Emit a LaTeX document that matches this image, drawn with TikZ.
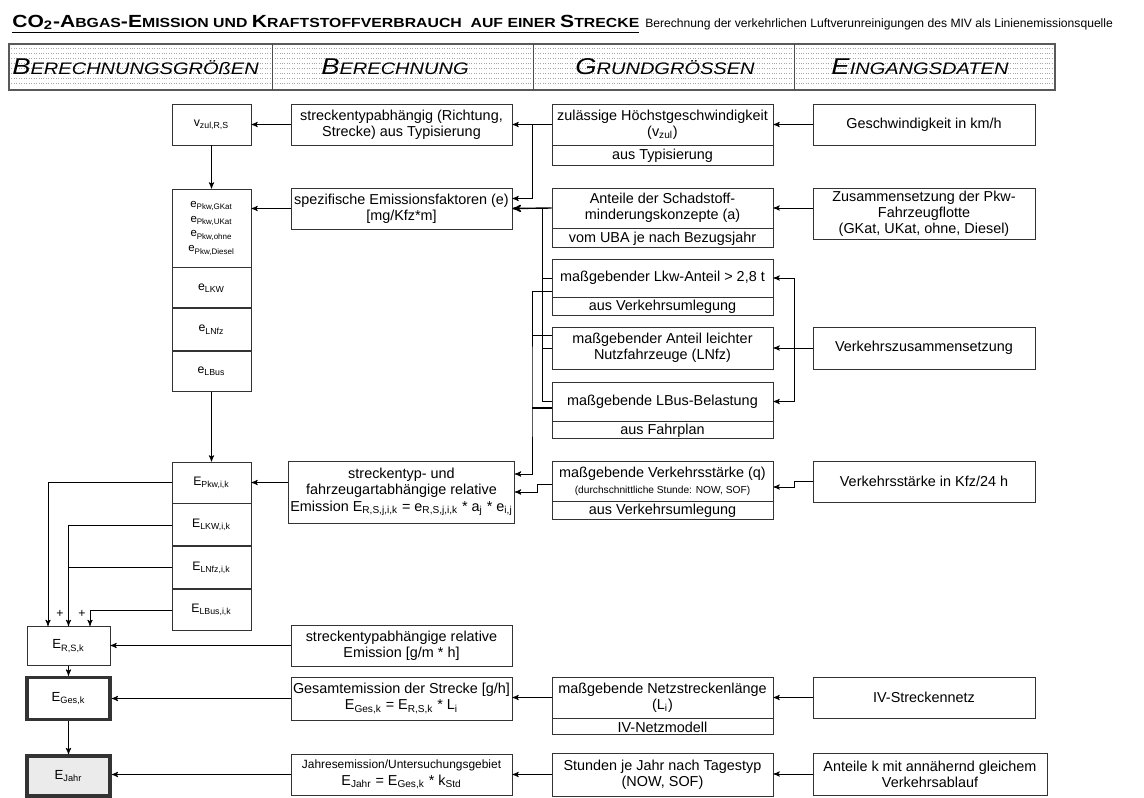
\documentclass[tikz,border=0pt]{standalone}
\usepackage{fontspec}
\setmainfont{Liberation Sans}
\newfontfamily\widefont[FakeStretch=1.2]{Liberation Sans}
\usetikzlibrary{arrows}
\usetikzlibrary{positioning}

\newcommand{\titelkap}[2]{{\fontsize{10}{10}\selectfont #1}{\fontsize{7.5}{7.5}\selectfont #2}}
\newcommand{\kopfkap}[2]{{\fontsize{13}{13}\selectfont #1}{\fontsize{9.5}{9.5}\selectfont #2}}

\begin{document}
\begin{tikzpicture}[x=0.02cm, y=-0.02cm]
    \tikzset{>=stealth'}
    \tikzset{
        box/.style={draw=black!80, line width=0.5pt, align=center, inner sep=1pt,
            font=\fontsize{8.2}{9.2}\selectfont, minimum width=4.42cm},
        smallbox/.style={box, minimum width=1.58cm, font=\fontsize{7}{8.5}\selectfont},
        resultbox/.style={box, minimum width=1.66cm, font=\fontsize{7.5}{8.5}\selectfont},
        kopf/.style={font=\widefont\itshape, inner sep=0pt},
        plus/.style={font=\fontsize{7}{7}\selectfont, inner sep=0pt}
    }
    \useasboundingbox (0,0) rectangle (1144,798);

    % Title line
    \node[anchor=west, inner sep=0pt, font=\widefont\bfseries] (titel) at (12,24)
        {\underline{\titelkap{CO}{}\textsubscript{2}\titelkap{-A}{BGAS}\titelkap{-E}{MISSION UND }\titelkap{K}{RAFTSTOFFVERBRAUCH \ AUF EINER }\titelkap{S}{TRECKE}}};
    \node[anchor=base west, inner sep=0pt, font=\fontsize{6.9}{6.9}\selectfont] (untertitel)
        at ([xshift=3pt]titel.base east)
        {Berechnung der verkehrlichen Luftverunreinigungen des MIV als Linienemissionsquelle};

    % Draw the header row
    \foreach \yy in {48,53,...,86}
        \draw[black!35, densely dotted] (9,\yy) -- (1055,\yy);
    \draw[black!65, line width=0.8pt] (9,44) rectangle (1055,90);
    \foreach \xx in {272,533,794}
        \draw[black!70] (\xx,44) -- (\xx,90);
    \node[kopf, anchor=west] (kopfA) at (12,67) {\kopfkap{B}{ERECHNUNGSGRÖßEN}};
    \node[kopf] (kopfB) at (395,67) {\kopfkap{B}{ERECHNUNG}};
    \node[kopf] (kopfC) at (665,67) {\kopfkap{G}{RUNDGRÖSSEN}};
    \node[kopf] (kopfD) at (920,67) {\kopfkap{E}{INGANGSDATEN}};

    % Eingangsdaten
    \node[box, minimum width=4.44cm, minimum height=0.82cm] (geschw) at (924,124.5) {Geschwindigkeit in km/h};
    \node[box, minimum width=4.44cm, minimum height=1.02cm, inner sep=0pt] (flotte) at (924,213.5)
        {Zusammensetzung der Pkw-\\Fahrzeugflotte\\(GKat, UKat, ohne, Diesel)};
    \node[box, minimum width=4.44cm, minimum height=0.84cm] (vzus) at (924,348) {Verkehrszusammensetzung};
    \node[box, minimum width=4.44cm, minimum height=0.82cm] (vkfz) at (924,481.5) {Verkehrsstärke in Kfz/24 h};
    \node[box, minimum width=4.44cm, minimum height=0.82cm] (ivnetz) at (924,697.5) {IV-Streckennetz};
    \node[box, minimum width=4.68cm, minimum height=0.84cm] (antk) at (930,774)
        {Anteile k mit annähernd gleichem\\Verkehrsablauf};

    % Grundgroessen
    \node[box, minimum height=0.82cm] (zul) at (662.5,124.5) {zulässige Höchstgeschwindigkeit\\(v\textsubscript{zul})};
    \node[box, minimum height=0.4cm, below=0pt of zul] (zulsub) {aus Typisierung};
    \node[box, minimum height=0.8cm] (ant) at (662.5,208) {Anteile der Schadstoff-\\minderungskonzepte (a)};
    \node[box, minimum height=0.38cm, below=0pt of ant] (antsub) {vom UBA je nach Bezugsjahr};
    \node[box, minimum height=0.76cm] (lkw) at (662.5,278) {maßgebender Lkw-Anteil > 2,8 t};
    \node[box, minimum height=0.36cm, below=0pt of lkw] (lkwsub) {aus Verkehrsumlegung};
    \node[box, minimum height=0.84cm] (lnfz) at (662.5,348) {maßgebender Anteil leichter\\Nutzfahrzeuge (LNfz)};
    \node[box, minimum height=0.78cm] (lbus) at (662.5,401.5) {maßgebende LBus-Belastung};
    \node[box, minimum height=0.32cm, below=0pt of lbus] (lbussub) {aus Fahrplan};
    \node[box, minimum height=0.8cm] (q) at (662.5,481)
        {maßgebende Verkehrsstärke (q)\\{\fontsize{5.8}{6.5}\selectfont (durchschnittliche Stunde: NOW, SOF)}};
    \node[box, minimum height=0.36cm, below=0pt of q] (qsub) {aus Verkehrsumlegung};
    \node[box, minimum height=0.82cm] (netz) at (662.5,697.5) {maßgebende Netzstreckenlänge\\(L\textsubscript{i})};
    \node[box, minimum height=0.32cm, below=0pt of netz] (netzsub) {IV-Netzmodell};
    \node[box, minimum height=0.86cm] (std) at (662.5,774.5) {Stunden je Jahr nach Tagestyp\\(NOW, SOF)};

    % Berechnung
    \node[box, minimum height=0.82cm] (typ) at (401.5,124.5) {streckentypabhängig (Richtung,\\Strecke) aus Typisierung};
    \node[box, minimum height=0.82cm] (spez) at (401.5,208.5) {spezifische Emissionsfaktoren (e)\\{[mg/Kfz*m]}};
    \node[box, minimum height=1.24cm] (rel) at (401.5,492)
        {streckentyp- und\\fahrzeugartabhängige relative\\Emission E\textsubscript{R,S,j,i,k} = e\textsubscript{R,S,j,i,k} * a\textsubscript{j} * e\textsubscript{i,j}};
    \node[box, minimum height=0.82cm] (relrs) at (401.5,645.5) {streckentypabhängige relative\\Emission [g/m * h]};
    \node[box, minimum height=0.86cm] (ges) at (401.5,698.5)
        {Gesamtemission der Strecke [g/h]\\E\textsubscript{Ges,k} = E\textsubscript{R,S,k} * L\textsubscript{i}};
    \node[box, minimum height=0.82cm] (jahr) at (401.5,774.5)
        {{\fontsize{6.8}{8}\selectfont Jahresemission/Untersuchungsgebiet}\\E\textsubscript{Jahr} = E\textsubscript{Ges,k} * k\textsubscript{Std}};

    % Berechnungsgroessen
    \node[smallbox, minimum height=0.82cm] (v) at (211.5,124.5) {v\textsubscript{zul,R,S}};
    \node[smallbox, minimum height=1.56cm, font=\fontsize{6.5}{8.5}\selectfont] (ePkw) at (211.5,228)
        {e\textsubscript{Pkw,GKat}\\e\textsubscript{Pkw,UKat}\\e\textsubscript{Pkw,ohne}\\e\textsubscript{Pkw,Diesel}};
    \node[smallbox, minimum height=0.8cm, below=0pt of ePkw] (eLkw) {e\textsubscript{LKW}};
    \node[smallbox, minimum height=0.84cm, below=0pt of eLkw] (eLnfz) {e\textsubscript{LNfz}};
    \node[smallbox, minimum height=0.8cm, below=0pt of eLnfz] (eLbus) {e\textsubscript{LBus}};
    \node[smallbox, minimum height=0.82cm] (EPkw) at (211.5,482.5) {E\textsubscript{Pkw,i,k}};
    \node[smallbox, minimum height=0.84cm, below=0pt of EPkw] (ELkw) {E\textsubscript{LKW,i,k}};
    \node[smallbox, minimum height=0.84cm, below=0pt of ELkw] (ELnfz) {E\textsubscript{LNfz,i,k}};
    \node[smallbox, minimum height=0.82cm, below=0pt of ELnfz] (ELbus) {E\textsubscript{LBus,i,k}};
    \node[resultbox, minimum height=0.78cm] (ERS) at (68.5,646) {E\textsubscript{R,S,k}};
    \node[resultbox, minimum height=0.84cm, line width=2pt] (EGes) at (68.5,698.5) {E\textsubscript{Ges,k}};
    \node[resultbox, minimum height=0.8cm, line width=2pt, fill=black!8] (EJahr) at (68.5,776) {E\textsubscript{Jahr}};

    % Bus lines
    \coordinate (busA) at (542,300);
    \coordinate (busB) at (532,400);
    \coordinate (busR) at (794,348);

    % Connections, upper part
    \draw[->] (geschw.west) -- (zul.east);
    \draw[->] (zul.west) -- (typ.east);
    \draw[->] (zul.west -| busB) |- ([yshift=2mm]spez.east);
    \draw[->] (typ.west) -- (v.east);
    \draw[->] (v.south) -- (ePkw.north);
    \draw[->] (flotte.west |- ant.east) -- (ant.east);
    \draw[->, line width=0.8pt] (ant.west) -- (spez.east);
    \draw[->] (spez.west) -- (spez.west -| ePkw.east);

    % Connections, shares of vehicle types
    \draw (ant.west -| busA) -- (lbus.west -| busA);
    \draw (lkw.west) -- (lkw.west -| busA);
    \draw (lnfz.west) -- (lnfz.west -| busA);
    \draw (lbus.west) -- (lbus.west -| busA);
    \draw[->] ([yshift=-2.6mm]lkw.west) -| (busB) |- ([yshift=3.6mm]rel.east);
    \draw ([yshift=2.6mm]lnfz.west) -- ++(-20,0);
    \draw[line width=0.8pt] ([yshift=-1.3mm]lbus.west) -- ++(-20,0);
    \draw[->] (vzus.west) -- (lnfz.east);
    \draw[->] (busR) |- (lkw.east);
    \draw[->] (busR) |- (lbus.east);

    % Connections, relative emission
    \draw[->] (vkfz.west) -- ++(-18,0) |- ([yshift=-1.2mm]q.east);
    \draw[->] ([yshift=-0.6mm]q.west) -- ++(-14,0) |- (rel.east);
    \draw[->] (rel.west |- EPkw.east) -- (EPkw.east);
    \draw[->] (eLbus.south) -- (EPkw.north);

    % Sum of the vehicle types
    \draw[->] (EPkw.west) -| ([xshift=-4.1mm]ERS.north);
    \draw[->] (ELkw.west) -| (ERS.north);
    \draw (ELnfz.west) -- (ELnfz.west -| ERS.north);
    \draw[->] (ELbus.west) -| ([xshift=4.3mm]ERS.north);
    \node[plus] (plusA) at (60,614) {+};
    \node[plus] (plusB) at (82,614) {+};

    % Connections, lower part
    \draw[->] (relrs.west) -- (relrs.west -| ERS.east);
    \draw[->] (ERS.south) -- (EGes.north);
    \draw[->] (ges.west) -- (ges.west -| EGes.east);
    \draw[->] (netz.west) -- (netz.west -| ges.east);
    \draw[->] (ivnetz.west) -- (ivnetz.west -| netz.east);
    \draw[->] (EGes.south) -- (EJahr.north);
    \draw[->] (jahr.west) -- (jahr.west -| EJahr.east);
    \draw[->] (std.west) -- (std.west -| jahr.east);
    \draw[->] (antk.west) -- (antk.west -| std.east);
\end{tikzpicture}
\end{document}
